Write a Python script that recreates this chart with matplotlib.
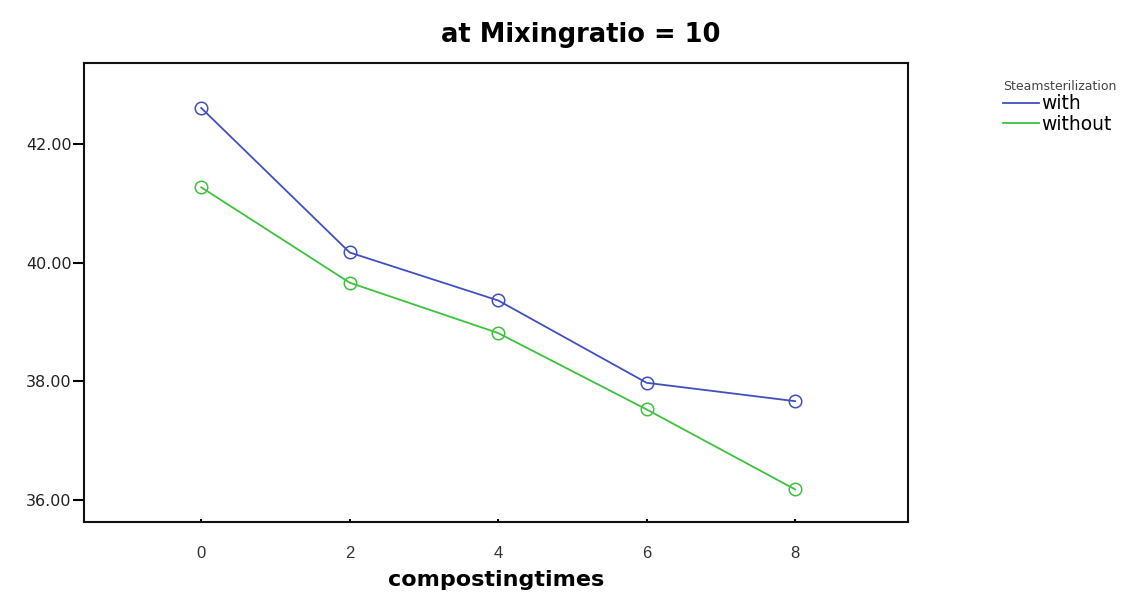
import matplotlib
matplotlib.use("Agg")
import matplotlib.pyplot as plt
from matplotlib.lines import Line2D

plt.rcParams["font.family"] = ["DejaVu Sans"]

# data
times = [0, 2, 4, 6, 8]
with_steam = [42.61, 40.17, 39.36, 37.97, 37.66]
without_steam = [41.27, 39.66, 38.81, 37.52, 36.17]
y_ticks = [36.0, 38.0, 40.0, 42.0]

col_with = "#4050c0"
col_without = "#3ec23e"

fig = plt.figure(figsize=(11.34, 5.97), dpi=100)
ax = fig.add_axes([0.074, 0.1256, 0.7267, 0.769])

ax.plot(times, with_steam, color=col_with, linewidth=1.3, marker="o",
        markersize=9, markerfacecolor="none", markeredgewidth=1.1)
ax.plot(times, without_steam, color=col_without, linewidth=1.3, marker="o",
        markersize=9, markerfacecolor="none", markeredgewidth=1.1)

ax.set_xlim(-1.58, 9.52)
ax.set_ylim(35.62, 43.37)
ax.set_xticks(times)
ax.set_yticks(y_ticks)
ax.set_yticklabels([f"{v:.2f}" for v in y_ticks], fontsize=11.5, color="#222222")
ax.set_xticklabels([str(t) for t in times], fontsize=12, color="#333333",
                   family=["Liberation Sans Narrow", "Liberation Sans"])
ax.tick_params(axis="y", direction="out", length=8, width=1.5, pad=1)
ax.tick_params(axis="x", direction="in", length=2, width=1.5, pad=17)
for sp in ax.spines.values():
    sp.set_linewidth(1.5)
    sp.set_color("#111111")

ax.set_xlabel("compostingtimes", fontsize=16, fontweight="bold", labelpad=7)
fig.text(0.512, 0.941, "at Mixingratio = 10", ha="center", va="center",
         fontsize=18.5, fontweight="bold")

handles = [Line2D([], [], color=col_with, linewidth=1.3),
           Line2D([], [], color=col_without, linewidth=1.3)]
leg = fig.legend(handles, ["with", "without"], title="Steamsterilization",
                 loc="upper left", bbox_to_anchor=(0.873, 0.888), frameon=False,
                 fontsize=13.5, title_fontsize=9, handlelength=1.9,
                 handletextpad=0.15, labelspacing=0.08, borderpad=0.2)
leg._legend_box.align = "left"
leg.get_title().set_color("#444444")

fig.savefig("out.png", dpi=100, facecolor="white")
